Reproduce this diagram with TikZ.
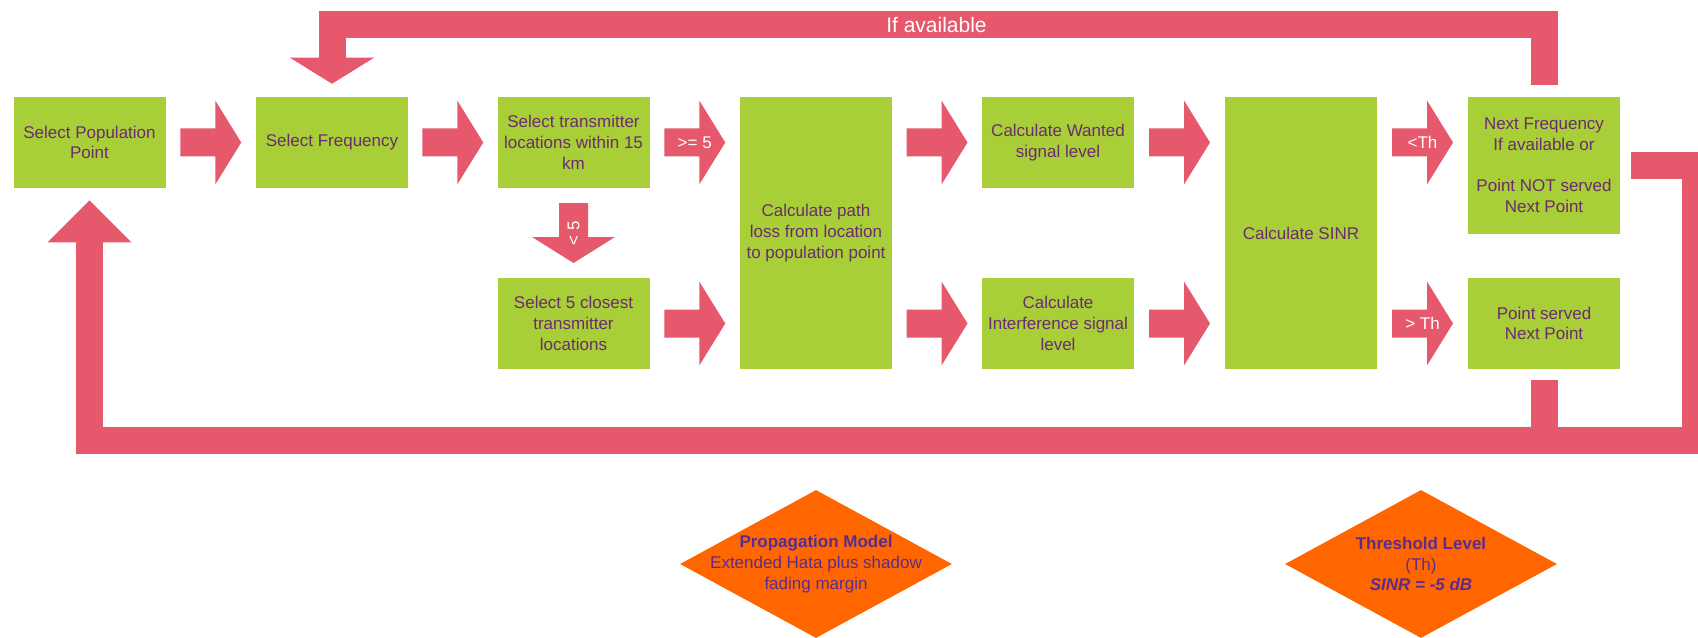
\documentclass[tikz,border=0pt]{standalone}
\usepackage{fontspec}
\setmainfont{Liberation Sans}
\usetikzlibrary{calc,shapes.geometric,arrows.meta}

\definecolor{boxgreen}{HTML}{A8CE38}
\definecolor{flowred}{HTML}{E6586B}
\definecolor{boxtext}{HTML}{6B2C6F}
\definecolor{modelorange}{HTML}{FF6600}
\definecolor{modeltext}{HTML}{5B2D8B}

\tikzset{
  stage/.style={fill=boxgreen, text=boxtext, minimum width=114pt, minimum height=68.25pt,
    inner sep=0pt, align=center, font=\fontsize{12.75}{15.5}\selectfont},
  flowlabel/.style={text=white, inner sep=0pt, font=\fontsize{12.75}{15.5}\selectfont},
  loopbar/.style={flowred, line width=20.25pt},
  model/.style={diamond, fill=modelorange, minimum width=204pt, minimum height=111pt, inner sep=0pt},
  modellabel/.style={text=modeltext, align=center, inner sep=0pt, font=\fontsize{12.75}{15.5}\selectfont},
}

% block arrows between the stages
\newcommand{\fatright}[3]{%
  \begin{scope}[shift={#2}]
    \fill[flowred] (-30.5,-14) -- (4.5,-14) -- (4.5,-42) -- (30.5,0) -- (4.5,42) -- (4.5,14) -- (-30.5,14) -- cycle;
    \node[flowlabel] (#1) at (0,0) {#3};
  \end{scope}}
\newcommand{\fatdown}[3]{%
  \begin{scope}[shift={#2}]
    \fill[flowred] (-14.5,-30) -- (14.5,-30) -- (14.5,4) -- (41.5,4) -- (0,30) -- (-41.5,4) -- (-14.5,4) -- cycle;
    \node[flowlabel, rotate=90] (#1) at (0,0) {#3};
  \end{scope}}

\begin{document}
\begin{tikzpicture}[x=0.75pt, y=-0.75pt]
    \useasboundingbox (0,0) rectangle (1698,638);
    \clip (0,0) rectangle (1698,638);

    % stages
    \node[stage] (selpop) at (89.5,142.5) {Select Population\\Point};
    \node[stage] (selfreq) at (332,142.5) {Select Frequency};
    \node[stage] (selTx) at (573.5,142.5) {Select transmitter\\locations within 15\\km};
    \node[stage] (closest) at (573.5,323.5) {Select 5 closest\\transmitter\\locations};
    \node[stage, minimum height=204pt] (pathloss) at (816,233) {Calculate path\\loss from location\\to population point};
    \node[stage] (wanted) at (1058,142.5) {Calculate Wanted\\signal level};
    \node[stage] (interf) at (1058,323.5) {Calculate\\Interference signal\\level};
    \node[stage, minimum height=204pt] (sinr) at (1301,233) {Calculate SINR};
    \node[stage, minimum height=102.75pt] (nextfreq) at (1544,165.5) {Next Frequency\\If available or\\\strut\\Point NOT served\\Next Point};
    \node[stage] (served) at (1544,323.5) {Point served\\Next Point};

    % arrows
    \fatright{a1}{($(selpop.east)!.5!(selfreq.west)$)}{};
    \fatright{a2}{($(selfreq.east)!.5!(selTx.west)$)}{};
    \fatright{a3}{($(selTx.east)!.5!(selTx.east -| pathloss.west)$)}{>= 5};
    \fatright{a4}{($(closest.east)!.5!(closest.east -| pathloss.west)$)}{};
    \fatright{a5}{($(wanted.west)!.5!(wanted.west -| pathloss.east)$)}{};
    \fatright{a6}{($(interf.west)!.5!(interf.west -| pathloss.east)$)}{};
    \fatright{a7}{($(wanted.east)!.5!(wanted.east -| sinr.west)$)}{};
    \fatright{a8}{($(interf.east)!.5!(interf.east -| sinr.west)$)}{};
    \fatright{a9}{($(wanted.east -| sinr.east)!.5!(wanted.east -| nextfreq.west)$)}{<Th};
    \fatright{a10}{($(served.west -| sinr.east)!.5!(served.west)$)}{> Th};
    \fatdown{a0}{($(selTx.south)!.5!(closest.north)$)}{< 5};

    % loops back
    \draw[loopbar, -{Triangle[width=63pt,length=19.5pt,line width=0pt]}]
        ($(nextfreq.north)+(0,-12)$) |- ($(selfreq.north)+(0,-72.5)$) -- ($(selfreq.north)+(0,-13)$);
    \node[flowlabel, font=\fontsize{15.75}{18}\selectfont] (ifavail) at (936.5,24.5) {If available};
    \draw[loopbar, -{Triangle[width=63pt,length=31.5pt,line width=0pt]}]
        ($(nextfreq.east)+(11,0)$) -| ($(served.south)+(151,71.5)$) -| ($(selpop.south)+(0,12)$);
    \draw[loopbar] ($(served.south)+(0,11)$) -- ($(served.south)+(0,71.5)$);

    % models
    \node[model, label={[modellabel]center:{\textbf{Propagation Model}\\Extended Hata plus shadow\\fading margin}}] (propmodel) at (816,564) {};
    \node[model, label={[modellabel]center:{\textbf{Threshold Level}\\(Th)\\\textbf{\textit{SINR = -5 dB}}}}] (threshold) at (1421,564) {};
\end{tikzpicture}
\end{document}
